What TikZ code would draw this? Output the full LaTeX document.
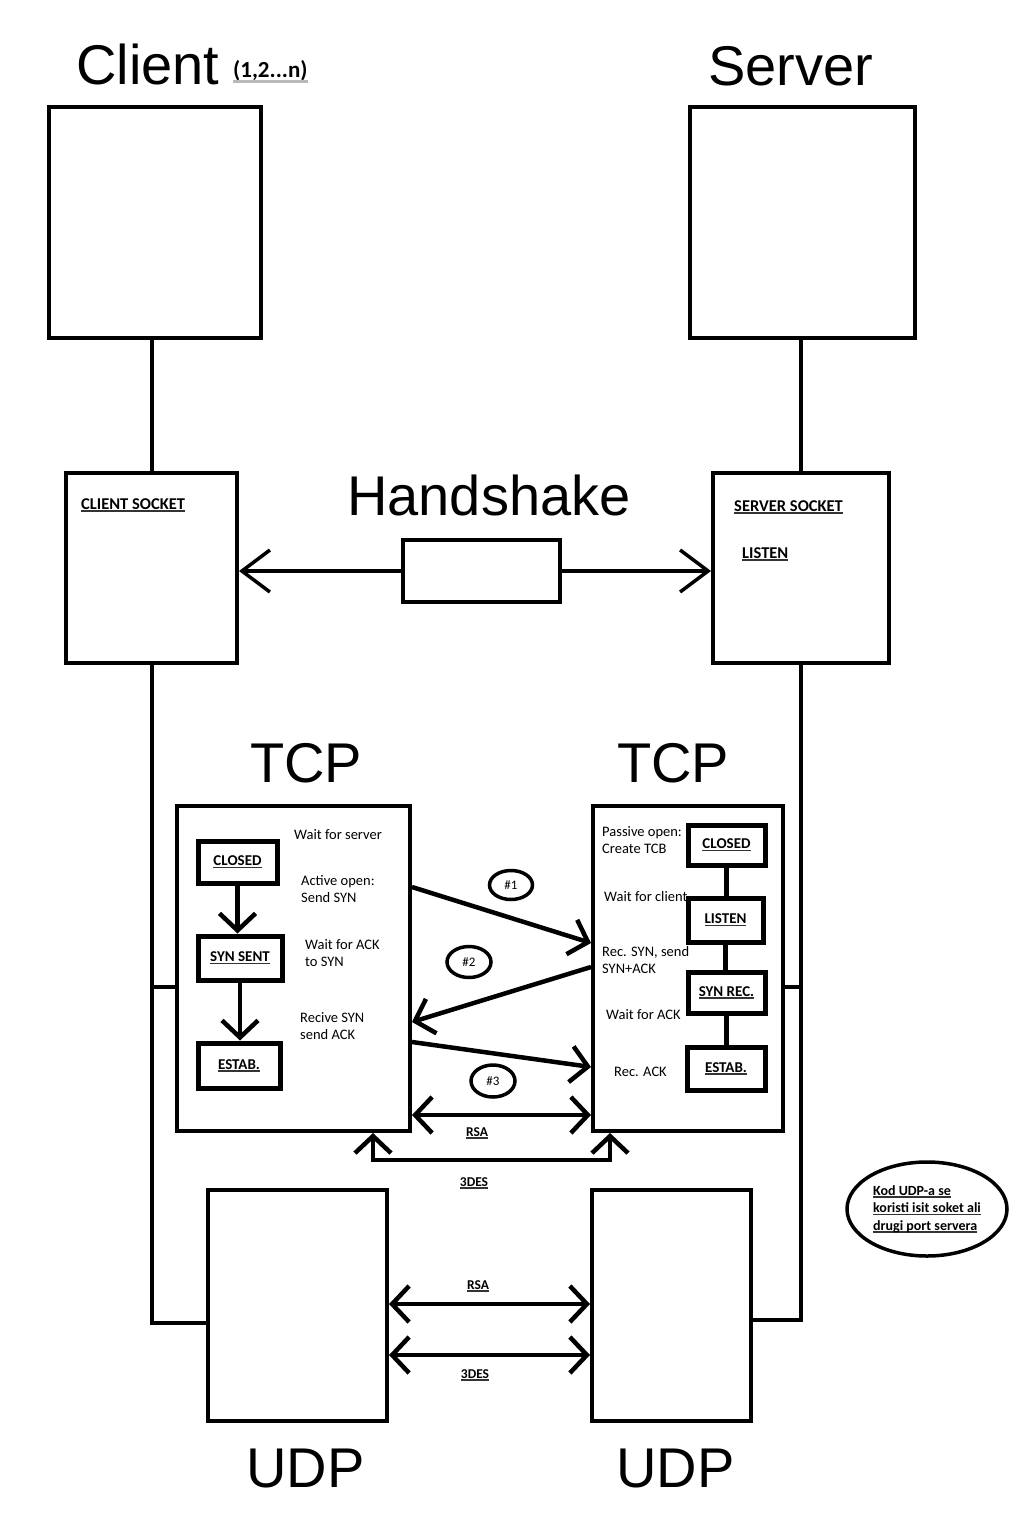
\documentclass[tikz,border=0pt]{standalone}
\usepackage{fontspec}
\setmainfont{Liberation Sans}
\newfontfamily\carl{Carlito}
\usetikzlibrary{arrows.meta,shapes.geometric}
\newcommand\uln[1]{\setbox0\hbox{#1}\rlap{\textcolor{black!80}{\rule[-2.6pt]{\wd0}{1.6pt}}}\box0}
\begin{document}
\begin{tikzpicture}[x=1pt,y=-1pt,
  big/.style={font=\fontsize{56}{60}\selectfont, anchor=base west, inner sep=0},
  rect/.style 2 args={draw, line width=4, inner sep=0, minimum width=#1, minimum height=#2},
  state/.style 2 args={draw, line width=5, inner sep=0, minimum width=#1, minimum height=#2, font=\carl\bfseries\fontsize{15}{17}\selectfont},
  lbl/.style={font=\carl\fontsize{14.5}{17.5}\selectfont, anchor=north west, inner sep=0, align=left},
  blbl/.style={font=\carl\bfseries\fontsize{16.5}{18}\selectfont, anchor=base west, inner sep=0},
  klbl/.style={font=\carl\bfseries\fontsize{13.5}{15}\selectfont, inner sep=0},
  wire/.style={line width=4},
  hsarr/.style={line width=3.5, -{Straight Barb[length=28pt,width=42pt]}},
  tarr/.style={line width=4.5, -{Straight Barb[length=17pt,width=36pt]}},
  twoway/.style={line width=4.5, {Straight Barb[length=17pt,width=36pt]}-{Straight Barb[length=17pt,width=36pt]}},
  hashe/.style={draw, ellipse, line width=3.5, inner sep=0, font=\carl\fontsize{13}{14}\selectfont}
]
\useasboundingbox (0,0) rectangle (1024,1536);

% titles
\node[big] (tclient) at (76,85) {Client};
\node[font=\carl\bfseries\fontsize{23}{26}\selectfont, anchor=base west, inner sep=0] (cnum) at (233,78) {(1,2...n)};
\draw[gray!55, line width=3] (cnum.south west) -- (cnum.south east);
\node[big] (tserver) at (708,86) {Server};
\node[big] (thand) at (347,515) {Handshake};
\node[big] (ttcpl) at (250,782) {TCP};
\node[big] (ttcpr) at (617,782) {TCP};
\node[big] (tudpl) at (246,1487) {UDP};
\node[big] (tudpr) at (616,1487) {UDP};

% main boxes
\node[rect={212}{231}] (client) at (155,222.5) {};
\node[rect={225}{231}] (server) at (802.5,222.5) {};
\node[rect={171}{190}] (csock) at (151.5,568) {};
\node[rect={176}{190}] (ssock) at (801,568) {};
\node[draw, line width=3.5, inner sep=0, minimum width=157, minimum height=62] (hbox) at (481.5,571) {};
\node[rect={233}{325}] (ltcp) at (293.5,968.5) {};
\node[rect={190}{325}] (rtcp) at (688,968.5) {};
\node[rect={179}{231}] (udpl) at (297.5,1305.5) {};
\node[rect={159}{231}] (udpr) at (671.5,1305.5) {};

% socket labels
\node[blbl] (csockl) at (81,509) {\uln{CLIENT SOCKET}};
\node[blbl] (ssockl) at (734,511) {\uln{SERVER SOCKET}};
\node[blbl] (slisten) at (742,558) {\uln{LISTEN}};

% vertical wires
\draw[wire] (client.south -| csock.north) -- (csock.north);
\draw[wire] (server.south -| ssock.north) -- (ssock.north);
\coordinate (lj) at (151.5,987);
\coordinate (lb) at (151.5,1323);
\coordinate (rj) at (801,987);
\coordinate (rb) at (801,1320);
\draw[wire] (csock.south) -- (lb) -- (udpl.west |- lb);
\draw[wire] (lj) -- (ltcp.west |- lj);
\draw[wire] (ssock.south) -- (rb) -- (udpr.east |- rb);
\draw[wire] (rj) -- (rtcp.east |- rj);

% handshake
\draw[hsarr] (hbox.west) -- (csock.east |- hbox.west);
\draw[hsarr] (hbox.east) -- (ssock.west |- hbox.east);

% left TCP states
\node[state={79}{42}] (lclosed) at (237.5,862) {\uln{CLOSED}};
\node[state={84}{44}] (lsyn) at (240,958) {\uln{SYN SENT}};
\node[state={82}{45}] (lestab) at (239,1065.5) {\uln{ESTAB.}};
\draw[tarr] (lclosed.south) -- (lclosed.south |- lsyn.north);
\draw[tarr] (lsyn.south) -- (lsyn.south |- lestab.north);
\node[lbl] (lw1) at (294,829) {Wait for server};
\node[lbl] (lw2) at (301,875) {Active open:\\Send SYN};
\node[lbl] (lw3) at (305,939) {Wait for ACK\\to SYN};
\node[lbl] (lw4) at (300,1012) {Recive SYN\\send ACK};

% right TCP states
\node[state={77}{40}] (rclosed) at (726.5,845) {\uln{CLOSED}};
\node[state={75}{44}] (rlisten) at (725.5,920) {\uln{LISTEN}};
\node[state={77}{41}] (rsynrec) at (726.5,992.5) {\uln{SYN REC.}};
\node[state={78}{43}] (restab) at (726,1068.5) {\uln{ESTAB.}};
\draw[line width=5] (rclosed.south) -- (rclosed.south |- rlisten.north);
\draw[line width=5] (rlisten.south) -- (rlisten.south |- rsynrec.north);
\draw[line width=5] (rsynrec.south) -- (rsynrec.south |- restab.north);
\node[lbl] (rw1) at (602,826) {Passive open:\\Create TCB};
\node[lbl] (rw2) at (604,891) {Wait for client};
\node[lbl] (rw3) at (602,946) {Rec. SYN, send\\SYN+ACK};
\node[lbl] (rw4) at (606,1009) {Wait for ACK};
\node[lbl] (rw5) at (614,1067) {Rec. ACK};

% handshake messages
\draw[tarr] (ltcp.east |- 0,887) -- (rtcp.west |- 0,943);
\draw[tarr] (rtcp.west |- 0,967) -- (ltcp.east |- 0,1022);
\draw[tarr] (ltcp.east |- 0,1042) -- (rtcp.west |- 0,1067);
\node[hashe, minimum width=43, minimum height=29] (e1) at (511,885) {\#1};
\node[hashe, minimum width=44, minimum height=31] (e2) at (469,962) {\#2};
\node[hashe, minimum width=44, minimum height=32] (e3) at (493,1081) {\#3};

% TCP keys
\draw[twoway] (ltcp.east |- 0,1115) -- (rtcp.west |- 0,1115);
\node[klbl] (krsa1) at (477,1133) {\uln{RSA}};
\draw[twoway] (ltcp.south -| 373,0) -- (373,1160) -- (610,1160) -- (rtcp.south -| 610,0);
\node[klbl] (kdes1) at (474,1183) {\uln{3DES}};

% UDP keys
\draw[twoway] (udpl.east |- 0,1304) -- (udpr.west |- 0,1304);
\node[klbl] (krsa2) at (478,1286) {\uln{RSA}};
\draw[twoway] (udpl.east |- 0,1355) -- (udpr.west |- 0,1355);
\node[klbl] (kdes2) at (475,1375) {\uln{3DES}};

% note
\node[draw, ellipse, line width=3.5, inner sep=0, minimum width=160, minimum height=94, align=left,
  font=\carl\bfseries\fontsize{14}{17.5}\selectfont] (note) at (927,1209)
  {\uln{Kod UDP-a se}\\\uln{koristi isit soket ali}\\\uln{drugi port servera}};
\end{tikzpicture}
\end{document}
